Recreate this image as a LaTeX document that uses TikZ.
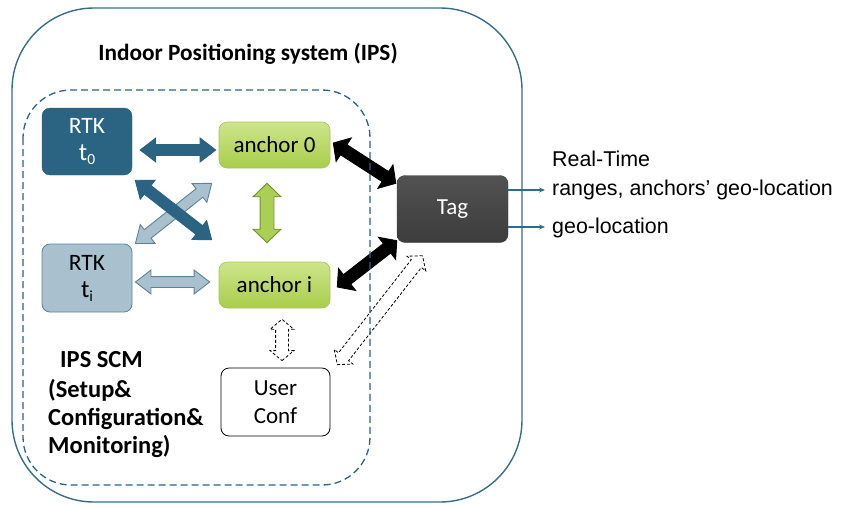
\documentclass[tikz,border=0pt]{standalone}
\usepackage{fontspec}
\setmainfont{Carlito}
\newfontfamily\arialfont{Liberation Sans}
\usetikzlibrary{shapes.arrows,calc,arrows.meta}

\definecolor{ipsblue}{HTML}{2B6383}
\definecolor{ipsframe}{HTML}{3A6C88}
\definecolor{rtklight}{HTML}{A9C1CE}
\definecolor{rtkedge}{HTML}{5E8397}
\definecolor{anchtop}{HTML}{CDE58C}
\definecolor{anchbot}{HTML}{A9CD4A}
\definecolor{anchedge}{HTML}{A6C55E}
\definecolor{greenarrow}{HTML}{AACF52}
\definecolor{greenedge}{HTML}{6F9033}
\definecolor{tagtop}{HTML}{525252}
\definecolor{tagbot}{HTML}{3C3C3C}
\definecolor{outarrow}{HTML}{2E6C8C}

% a fat two-headed arrow laid between two named points
\newcommand\blockarrow[3]{%
  \path let \p1=($(#3)-(#2)$), \n1={veclen(\x1,\y1)}, \n2={atan2(\y1,\x1)} in
    ($(#2)!0.5!(#3)$) node[#1, minimum height=\n1, rotate=\n2] {};}
% RTK time label: a large t with its index set low
\newcommand\rtktime[1]{{\fontsize{25}{25}\selectfont t}{\fontsize{15.5}{16}\selectfont\raisebox{-4pt}{#1}}}

\tikzset{
  box/.style={rounded corners=8pt, minimum width=#1, inner sep=0pt, align=center,
    font=\fontsize{23}{27}\selectfont},
  rtkdark/.style={box=90pt, minimum height=67pt, fill=ipsblue, draw=ipsblue, text=white,
    font=\fontsize{23.5}{26}\selectfont},
  rtklite/.style={box=90pt, minimum height=68pt, fill=rtklight, draw=rtkedge, line width=0.8pt,
    font=\fontsize{23.5}{26}\selectfont},
  anchorbox/.style={box=111pt, minimum height=46pt, top color=anchtop, bottom color=anchbot,
    draw=anchedge, line width=0.6pt},
  tagbox/.style={box=111pt, minimum height=67pt, top color=tagtop, bottom color=tagbot,
    draw=tagbot, text=white, font=\fontsize{23}{26}\selectfont},
  userbox/.style={box=109pt, minimum height=68pt, fill=white, draw=black, line width=0.8pt,
    font=\fontsize{23}{28}\selectfont},
  fatarrow/.style={double arrow, inner xsep=0pt, double arrow head indent=0pt, line width=0.9pt},
  darkarrow/.style={fatarrow, fill=ipsblue, draw=ipsblue, inner ysep=5pt,
    double arrow head extend=6.5pt, double arrow tip angle=75},
  litearrow/.style={fatarrow, fill=rtklight, draw=rtkedge, inner ysep=5pt,
    double arrow head extend=6.5pt, double arrow tip angle=75},
  greenarr/.style={fatarrow, fill=greenarrow, draw=greenedge, inner ysep=6.5pt,
    double arrow head extend=7pt, double arrow tip angle=92},
  blackarrow/.style={fatarrow, fill=black, draw=black, inner ysep=5.5pt,
    double arrow head extend=8pt, double arrow tip angle=97},
  dasharrow/.style={fatarrow, fill=white, draw=black, line width=0.8pt,
    dash pattern=on 3pt off 2pt, inner ysep=6pt,
    double arrow head extend=5.5pt, double arrow tip angle=100},
  outline/.style={draw=outarrow, line width=1.3pt, -{Stealth[length=6pt,width=5pt]}},
  sidetext/.style={anchor=base west, inner sep=0pt, font=\arialfont\fontsize{21.4}{25}\selectfont},
  scmtext/.style={anchor=base west, inner sep=0pt, font=\bfseries\fontsize{24.5}{29}\selectfont}
}

\begin{document}
\begin{tikzpicture}[x=1pt,y=-1pt]
\useasboundingbox (0,0) rectangle (848,504);

% outer system frame
\draw[ipsframe, line width=1.4pt, rounded corners=82pt] (12,8) rectangle (522,502);
\node[anchor=base, inner sep=0pt, font=\bfseries\fontsize{23.3}{27}\selectfont] (title) at (248,60)
  {Indoor Positioning system (IPS)};

% blocks
\node[rtkdark]   (rtk0) at (87,141.5) {RTK\\[1pt]\rtktime{0}};
\node[rtklite]   (rtki) at (87,278)   {RTK\\[1pt]\rtktime{i}};
\node[anchorbox] (anc0) at (274.5,145) {anchor 0};
\node[anchorbox] (anci) at (274.5,285) {anchor i};
\node[tagbox]    (tag)  at (452.5,209) {Tag};
\node[userbox]   (user) at (275.5,402) {User\\Conf};

% end points of the block arrows
\coordinate (a1s) at ($(rtk0.east)+(8,8.5)$);
\coordinate (a1e) at ($(anc0.west)+(-3,5)$);
\coordinate (a2s) at ($(rtk0.south east)+(3,5)$);
\coordinate (a2e) at ($(anci.north west)+(-7,-22)$);
\coordinate (a3s) at ($(rtki.north east)+(3,0)$);
\coordinate (a3e) at ($(anc0.south west)+(-7,15)$);
\coordinate (a4s) at ($(anc0.south)+(-7.5,15)$);
\coordinate (a4e) at ($(anci.north)+(-7.5,-19)$);
\coordinate (a5s) at ($(rtki.east)+(3,4)$);
\coordinate (a5e) at ($(anci.west)+(-9,-3)$);
\coordinate (a6s) at ($(anc0.east)+(3,-2)$);
\coordinate (a6e) at ($(tag.north west)+(-1,8)$);
\coordinate (a7s) at ($(anci.east)+(7,2)$);
\coordinate (a7e) at ($(tag.south west)+(0,-2)$);
\coordinate (a8s) at ($(anci.south)+(7.5,11)$);
\coordinate (a8e) at ($(user.north)+(6.5,-7)$);
\coordinate (a9s) at ($(user.north east)+(7,-3)$);
\coordinate (a9e) at ($(tag.south)+(-30,13)$);

\blockarrow{darkarrow}{a1s}{a1e}
\blockarrow{litearrow}{a3s}{a3e}
\blockarrow{darkarrow}{a2s}{a2e}
\blockarrow{greenarr}{a4s}{a4e}
\blockarrow{litearrow}{a5s}{a5e}
\blockarrow{blackarrow}{a6s}{a6e}
\blockarrow{blackarrow}{a7s}{a7e}
\blockarrow{dasharrow}{a8s}{a8e}
\blockarrow{dasharrow}{a9s}{a9e}

% tag outputs
\coordinate (o1) at (545,190);
\coordinate (o2) at (545,227);
\draw[outline] ($(tag.east)+(0,-19)$) -- (o1);
\draw[outline] ($(tag.east)+(0,18)$) -- (o2);
\node[sidetext] (rt)  at (552,166) {Real-Time};
\node[sidetext] (rng) at (552,195) {ranges, anchors’ geo-location};
\node[sidetext] (geo) at (552,233) {geo-location};

% setup, configuration and monitoring label
\node[scmtext] (scm1) at (60,367) {IPS SCM};
\node[scmtext] (scm2) at (48,397) {(Setup\&};
\node[scmtext] (scm3) at (48,425) {Configuration\&};
\node[scmtext] (scm4) at (48,453) {Monitoring)};

% dashed SCM frame
\draw[ipsblue, line width=1.3pt, dash pattern=on 7pt off 4pt, rounded corners=48pt]
  (23,90) rectangle (370,485);
\end{tikzpicture}
\end{document}
